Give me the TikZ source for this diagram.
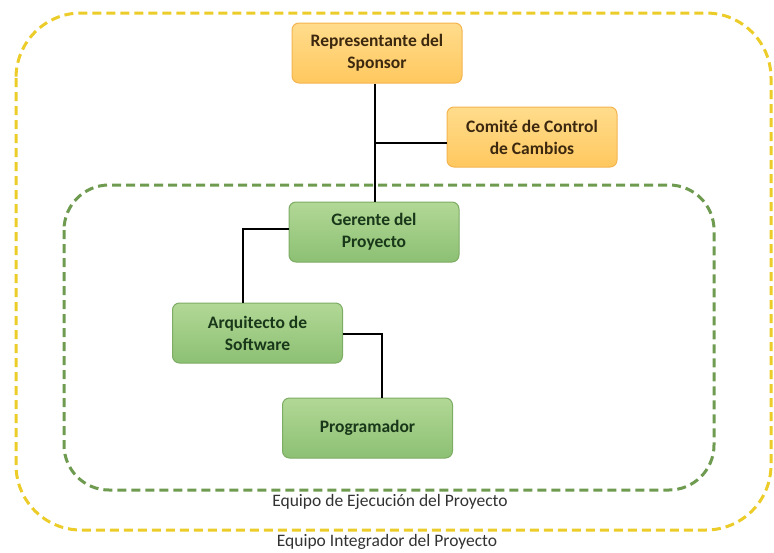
\documentclass[tikz,border=0pt]{standalone}
\usepackage{fontspec}
\setmainfont{Carlito}
\definecolor{orgtop}{RGB}{255,220,140}
\definecolor{orgbot}{RGB}{255,200,95}
\definecolor{orgline}{RGB}{244,180,80}
\definecolor{orgtext}{RGB}{60,40,15}
\definecolor{grntop}{RGB}{178,216,150}
\definecolor{grnbot}{RGB}{140,192,115}
\definecolor{grnline}{RGB}{125,172,100}
\definecolor{grntext}{RGB}{25,55,25}
\definecolor{outerdash}{RGB}{236,204,40}
\definecolor{innerdash}{RGB}{110,155,80}
\definecolor{labeltext}{RGB}{50,50,50}
\begin{document}
\begin{tikzpicture}[x=1pt,y=-1pt,
  box/.style={rounded corners=7pt, minimum width=170pt, minimum height=60pt,
    align=center, line width=1pt, inner sep=2pt,
    font=\bfseries\fontsize{17.5}{22}\selectfont},
  orgbox/.style={box, draw=orgline, top color=orgtop, bottom color=orgbot, text=orgtext},
  grnbox/.style={box, draw=grnline, top color=grntop, bottom color=grnbot, text=grntext},
  teamline/.style={line width=3pt, dash pattern=on 9pt off 5pt},
  teamlabel/.style={text=labeltext, font=\fontsize{17.5}{21}\selectfont},
  link/.style={line width=2pt, black}]
\useasboundingbox (0,0) rectangle (774,552);

% team boundaries
\draw[teamline, outerdash, rounded corners=65pt] (16,13) rectangle (771,530);
\draw[teamline, innerdash, rounded corners=45pt] (64,185) rectangle (714,490);

% roles
\node[orgbox] (sponsor) at (377,53)   {Representante del\\Sponsor};
\node[orgbox] (comite)  at (532,137)  {Comité de Control\\de Cambios};
\node[grnbox] (gerente) at (374,232)  {Gerente del\\Proyecto};
\node[grnbox] (arq)     at (257.5,333) {Arquitecto de\\Software};
\node[grnbox] (prog)    at (367.5,428) {Programador};

% reporting lines
\coordinate (j1) at (375,143);
\coordinate (j2) at (243,229);
\coordinate (j3) at (382,334);
\draw[link] (sponsor.south -| j1) -- (gerente.north -| j1);
\draw[link] (j1) -- (j1 -| comite.west);
\draw[link] (j2 -| gerente.west) -- (j2) -- (j2 |- arq.north);
\draw[link] (j3 -| arq.east) -- (j3) -- (j3 |- prog.north);

% team names
\node[teamlabel] (ejec) at (390,502) {Equipo de Ejecución del Proyecto};
\node[teamlabel] (integ) at (387,542) {Equipo Integrador del Proyecto};
\end{tikzpicture}
\end{document}
